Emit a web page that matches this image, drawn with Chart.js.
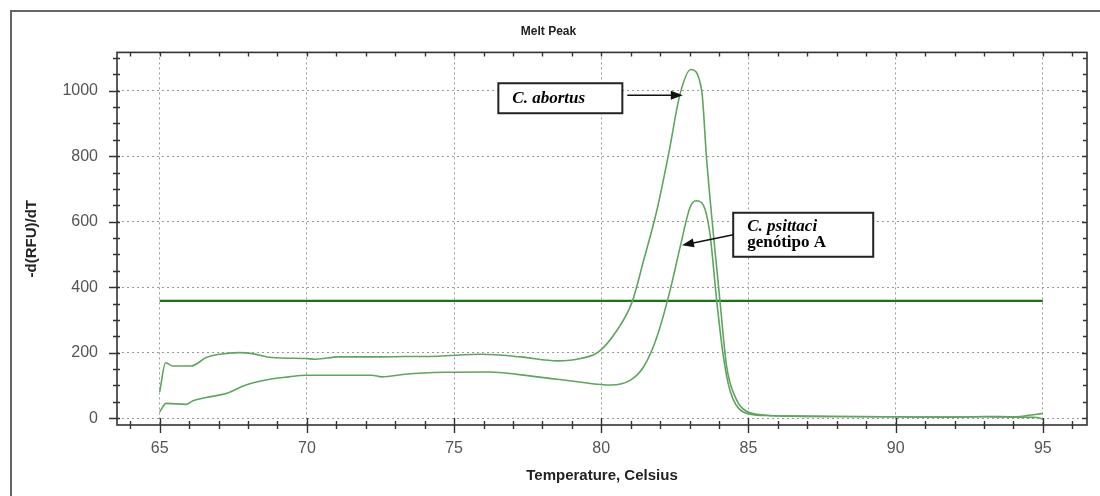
<!DOCTYPE html>
<html>
<head>
<meta charset="utf-8">
<script src="https://cdn.jsdelivr.net/npm/chart.js@4"></script>
<style>
  html, body { margin: 0; padding: 0; background: #fff; }
  #wrap { width: 1100px; height: 496px; }
</style>
</head>
<body>
<div id="wrap"><canvas id="meltPeakChart" width="1100" height="496"></canvas></div>
<script>
// temperatures (Celsius) and -d(RFU)/dT
const abortusT = [65.0, 65.2, 65.45, 66.07, 66.58, 67.03, 67.7, 68.15, 68.8, 69.96, 70.3, 71.08, 72.2, 73.33, 74.46, 75.92, 77.27, 78.51, 79.3, 79.92, 80.54, 81.05, 81.44, 81.89, 82.29, 82.68, 83.04, 83.41, 83.58, 84.03, 84.26, 84.6, 84.93, 85.6, 86.5, 88, 90, 92, 93, 94, 94.8, 95];
const abortusV = [80, 169, 159, 159, 185, 195, 200, 197, 185, 182, 180, 187, 187, 188, 189, 195, 187, 175, 182, 203, 269, 355, 482, 635, 808, 991, 1065, 1001, 790, 360, 157, 55, 21, 9, 6, 5, 4, 3, 5, 4, 12, 14];

const psittaciT = [65.0, 65.22, 65.9, 66.13, 66.58, 67.25, 67.93, 68.83, 69.39, 69.96, 72.2, 72.55, 73.33, 74.69, 76.15, 77.84, 79.19, 80.32, 80.99, 81.44, 81.89, 82.34, 82.68, 83.02, 83.22, 83.47, 83.69, 83.92, 84.15, 84.37, 84.82, 85.6, 86.5, 88, 90, 92, 93, 94, 94.8, 95];
const psittaciV = [19, 45, 42, 53, 63, 75, 101, 120, 126, 131, 131, 126, 134, 140, 141, 126, 111, 101, 116, 157, 248, 391, 523, 645, 664, 650, 564, 360, 187, 85, 19, 8, 6, 5, 4, 3, 4, 3, 2, -3];

const thresholdT = [65, 95];
const thresholdV = [358, 358];

const xTicks = [65, 70, 75, 80, 85, 90, 95];
const xMinor = [64, 65, 66, 67, 68, 69, 70, 71, 72, 73, 74, 75, 76, 77, 78, 79, 80, 81, 82, 83, 84, 85, 86, 87, 88, 89, 90, 91, 92, 93, 94, 95, 96];
const yTicks = [0, 200, 400, 600, 800, 1000];
const yMinor = [0, 50, 100, 150, 200, 250, 300, 350, 400, 450, 500, 550, 600, 650, 700, 750, 800, 850, 900, 950, 1000, 1050, 1100];

// label boxes, anchored in data units
const notes = [
  { lines: [['C. abortus', 'italic bold']], t: 78.61, v: 977, w: 124, h: 30, tipT: 82.77, tipV: 986 },
  { lines: [['C. psittaci', 'italic bold'], ['genótipo A', 'bold']], t: 86.86, v: 560, w: 140, h: 44, tipT: 82.74, tipV: 528 }
];

const toXY = (ts, vs) => ts.map((t, i) => ({ x: t, y: vs[i] }));

const decorPlugin = {
  id: 'decor',
  beforeDraw(chart) {
    const ctx = chart.ctx;
    ctx.save();
    ctx.fillStyle = '#fff';
    ctx.fillRect(0, 0, chart.width, chart.height);
    ctx.restore();
  },
  afterDraw(chart) {
    const { ctx, chartArea: a, scales: { x, y } } = chart;
    ctx.save();

    // outer frame
    ctx.strokeStyle = '#666';
    ctx.lineWidth = 2;
    ctx.beginPath();
    ctx.moveTo(11, chart.height);
    ctx.lineTo(11, 11);
    ctx.lineTo(chart.width, 11);
    ctx.stroke();

    // plot box
    ctx.strokeStyle = '#333';
    ctx.lineWidth = 1.6;
    ctx.strokeRect(a.left, a.top, a.right - a.left, a.bottom - a.top);

    // ticks
    ctx.lineWidth = 1.4;
    ctx.beginPath();
    xMinor.forEach(t => {
      const px = Math.round(x.getPixelForValue(t)) + 0.5;
      const major = xTicks.includes(t);
      ctx.moveTo(px, a.bottom - (major ? 7 : 4));
      ctx.lineTo(px, a.bottom + (major ? 8 : 4));
      ctx.moveTo(px, a.top);
      ctx.lineTo(px, a.top + 4);
    });
    yMinor.forEach(v => {
      const py = Math.round(y.getPixelForValue(v)) + 0.5;
      const major = yTicks.includes(v);
      ctx.moveTo(a.left - (major ? 8 : 4), py);
      ctx.lineTo(a.left + 3, py);
      ctx.moveTo(a.right - (major ? 5 : 4), py);
      ctx.lineTo(a.right, py);
    });
    ctx.stroke();

    // annotations
    notes.forEach(n => {
      const cx = x.getPixelForValue(n.t);
      const cy = y.getPixelForValue(n.v);
      const left = cx - n.w / 2, top = cy - n.h / 2;
      ctx.fillStyle = '#fff';
      ctx.fillRect(left, top, n.w, n.h);
      ctx.strokeStyle = '#222';
      ctx.lineWidth = 2;
      ctx.strokeRect(left, top, n.w, n.h);

      ctx.fillStyle = '#000';
      ctx.textBaseline = 'middle';
      ctx.textAlign = 'left';
      const lh = 16;
      const startY = cy - (n.lines.length - 1) * lh / 2;
      n.lines.forEach(([txt, style], i) => {
        ctx.font = style + " 17px 'Liberation Serif', 'Times New Roman', serif";
        ctx.fillText(txt, left + 14, startY + i * lh);
      });

      const tx = x.getPixelForValue(n.tipT);
      const ty = y.getPixelForValue(n.tipV);
      const sx = tx > cx ? left + n.w + 5 : left;
      const sy = tx > cx ? cy - 3 : cy;
      const ang = Math.atan2(ty - sy, tx - sx);
      ctx.strokeStyle = '#111';
      ctx.lineWidth = 1.6;
      ctx.beginPath();
      ctx.moveTo(sx, sy);
      ctx.lineTo(tx - 9 * Math.cos(ang), ty - 9 * Math.sin(ang));
      ctx.stroke();
      ctx.fillStyle = '#111';
      ctx.beginPath();
      ctx.moveTo(tx, ty);
      ctx.lineTo(tx - 12 * Math.cos(ang) + 4.5 * Math.sin(ang), ty - 12 * Math.sin(ang) - 4.5 * Math.cos(ang));
      ctx.lineTo(tx - 12 * Math.cos(ang) - 4.5 * Math.sin(ang), ty - 12 * Math.sin(ang) + 4.5 * Math.cos(ang));
      ctx.closePath();
      ctx.fill();
    });

    ctx.restore();
  }
};

Chart.defaults.font.family = "'Liberation Sans', Arial, sans-serif";

const ctx = document.getElementById('meltPeakChart').getContext('2d');
const meltPeakChart = new Chart(ctx, {
  type: 'line',
  data: {
    datasets: [
      {
        label: 'C. abortus',
        data: toXY(abortusT, abortusV),
        borderColor: 'rgb(95, 165, 95)',
        borderWidth: 1.6
      },
      {
        label: 'C. psittaci genótipo A',
        data: toXY(psittaciT, psittaciV),
        borderColor: 'rgb(95, 165, 95)',
        borderWidth: 1.6
      },
      {
        label: 'Threshold',
        data: toXY(thresholdT, thresholdV),
        borderColor: 'rgb(25, 115, 25)',
        borderWidth: 2.2,
        tension: 0
      }
    ]
  },
  options: {
    responsive: false,
    animation: false,
    devicePixelRatio: 1,
    elements: {
      point: { radius: 0 },
      line: { tension: 0.4, cubicInterpolationMode: 'monotone' }
    },
    layout: { padding: { left: 10, right: 13, top: 10, bottom: 0 } },
    plugins: {
      legend: { display: false },
      tooltip: { enabled: false },
      title: {
        display: true,
        text: 'Melt Peak',
        color: '#222',
        font: { size: 12, weight: 'bold' },
        padding: { top: 14, bottom: 14 }
      }
    },
    scales: {
      x: {
        type: 'linear',
        min: 63.55,
        max: 96.5,
        afterBuildTicks: s => { s.ticks = xTicks.map(v => ({ value: v })); },
        afterFit: s => { s.height = 71; },
        ticks: { color: '#555', font: { size: 16 }, padding: 14, callback: v => String(v) },
        grid: { color: '#9a9a9a', lineWidth: 1, drawTicks: false },
        border: { display: false, dash: [2, 3] },
        title: {
          display: true,
          text: 'Temperature, Celsius',
          color: '#222',
          font: { size: 15, weight: 'bold' },
          padding: { top: 4, bottom: 11 }
        }
      },
      y: {
        min: -21,
        max: 1117,
        afterBuildTicks: s => { s.ticks = yTicks.map(v => ({ value: v })); },
        afterFit: s => { s.width = 107; },
        ticks: { color: '#555', font: { size: 16 }, padding: 19, callback: v => String(v) },
        grid: { color: '#9a9a9a', lineWidth: 1, drawTicks: false },
        border: { display: false, dash: [2, 3] },
        title: {
          display: true,
          text: '-d(RFU)/dT',
          color: '#222',
          font: { size: 15, weight: 'bold' },
          padding: { top: 13, bottom: 4 }
        }
      }
    }
  },
  plugins: [decorPlugin]
});
</script>
</body>
</html>
